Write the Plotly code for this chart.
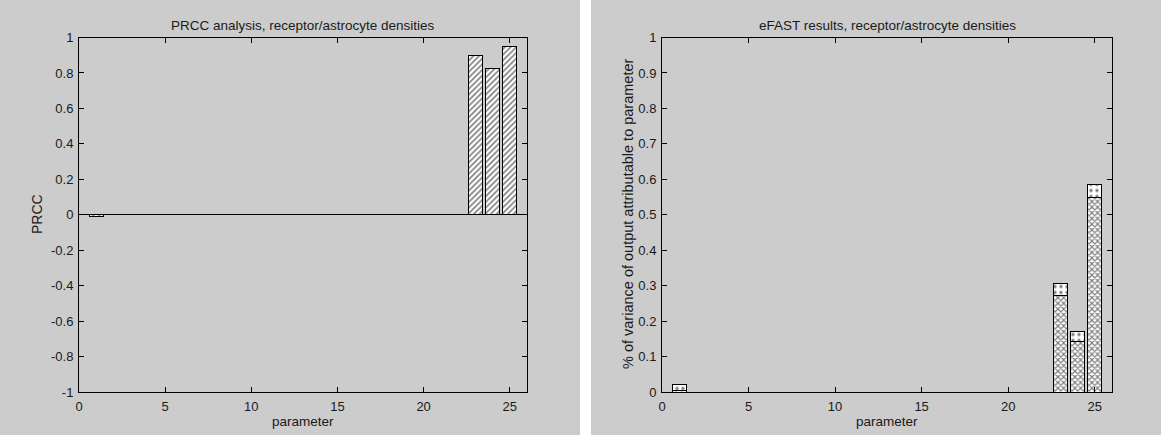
import plotly.graph_objects as go

# Sensitivity results for 25 model parameters
parameters = list(range(1, 26))

prcc_values = [-0.012, 0, 0, 0, 0, 0, 0, 0, 0, 0, 0, 0, 0, 0, 0, 0, 0, 0, 0, 0, 0, 0,
               0.90, 0.824, 0.948]

# eFAST: first-order part and remaining part of the total-order index
efast_first = [0.004, 0, 0, 0, 0, 0, 0, 0, 0, 0, 0, 0, 0, 0, 0, 0, 0, 0, 0, 0, 0, 0,
               0.273, 0.142, 0.55]
efast_total = [0.022, 0, 0, 0, 0, 0, 0, 0, 0, 0, 0, 0, 0, 0, 0, 0, 0, 0, 0, 0, 0, 0,
               0.305, 0.172, 0.585]
efast_rest = [t - f for t, f in zip(efast_total, efast_first)]

x_ticks = [0, 5, 10, 15, 20, 25]
prcc_ticks = [-1, -0.8, -0.6, -0.4, -0.2, 0, 0.2, 0.4, 0.6, 0.8, 1]
efast_ticks = [0, 0.1, 0.2, 0.3, 0.4, 0.5, 0.6, 0.7, 0.8, 0.9, 1]

W, H = 1161, 435
FONT = "Liberation Sans, Arial, sans-serif"
TXT = "#1a1a1a"
GRAY = "#cccccc"


def px_x(p):
    return p / W


def px_y(p):
    return 1 - p / H


def tick_text(v):
    return f"{v:g}"


fig = go.Figure()

fig.add_trace(go.Bar(
    x=parameters, y=prcc_values, width=0.8,
    marker=dict(color="white", line=dict(color="black", width=1),
                pattern=dict(shape="/", fgcolor="black", bgcolor="white",
                             size=4, solidity=0.4)),
    xaxis="x", yaxis="y", showlegend=False,
))

fig.add_trace(go.Bar(
    x=parameters, y=efast_first, width=0.8,
    marker=dict(color="white", line=dict(color="black", width=1),
                pattern=dict(shape="x", fgcolor="black", bgcolor="white",
                             size=4, solidity=0.5)),
    xaxis="x2", yaxis="y2", showlegend=False,
))
fig.add_trace(go.Bar(
    x=parameters, y=efast_rest, width=0.8,
    marker=dict(color="white", line=dict(color="black", width=1),
                pattern=dict(shape=".", fgcolor="black", bgcolor="white",
                             size=6, solidity=0.25)),
    xaxis="x2", yaxis="y2", showlegend=False,
))

axis_common = dict(
    showline=True, linecolor="black", linewidth=1, mirror="ticks",
    ticks="inside", ticklen=5, tickcolor="black", showgrid=False,
    automargin=False,
    tickfont=dict(family=FONT, size=13, color=TXT),
)

y_dom = [px_y(392), px_y(37.5)]

fig.update_layout(
    width=W, height=H,
    margin=dict(l=0, r=0, t=0, b=0),
    paper_bgcolor="white", plot_bgcolor="white",
    barmode="stack", bargap=0.2,
    xaxis=dict(domain=[px_x(79), px_x(527)], range=[0, 26],
               tickvals=x_ticks, ticktext=[tick_text(v) for v in x_ticks],
               anchor="y", zeroline=False, ticklabelstandoff=2, **axis_common),
    yaxis=dict(domain=y_dom, range=[-1, 1],
               tickvals=prcc_ticks, ticktext=[tick_text(v) for v in prcc_ticks],
               anchor="x", zeroline=True, zerolinecolor="black", zerolinewidth=1,
               ticklabelstandoff=2, **axis_common),
    xaxis2=dict(domain=[px_x(662), px_x(1112)], range=[0, 26],
                tickvals=x_ticks, ticktext=[tick_text(v) for v in x_ticks],
                anchor="y2", zeroline=False, ticklabelstandoff=2, **axis_common),
    yaxis2=dict(domain=y_dom, range=[0, 1],
                tickvals=efast_ticks, ticktext=[tick_text(v) for v in efast_ticks],
                anchor="x2", zeroline=False, ticklabelstandoff=2, **axis_common),
    shapes=[
        dict(type="rect", xref="paper", yref="paper", x0=0, x1=px_x(580),
             y0=0, y1=1, fillcolor=GRAY, line=dict(width=0), layer="below"),
        dict(type="rect", xref="paper", yref="paper", x0=px_x(591), x1=1,
             y0=0, y1=1, fillcolor=GRAY, line=dict(width=0), layer="below"),
    ],
)

annotations = [
    ("PRCC analysis, receptor/astrocyte densities", 303, 25, 0, 13.5),
    ("eFAST results, receptor/astrocyte densities", 887, 25, 0, 13.5),
    ("parameter", 303, 421, 0, 13.5),
    ("parameter", 887, 421, 0, 13.5),
    ("PRCC", 37, 214, -90, 14),
    ("% of variance of output attributable to parameter", 628, 214, -90, 14.5),
]
for text, ax, ay, angle, size in annotations:
    fig.add_annotation(text=text, xref="paper", yref="paper",
                       x=px_x(ax), y=px_y(ay), xanchor="center", yanchor="middle",
                       showarrow=False, textangle=angle,
                       font=dict(family=FONT, size=size, color=TXT))

fig.write_html("out.html")
